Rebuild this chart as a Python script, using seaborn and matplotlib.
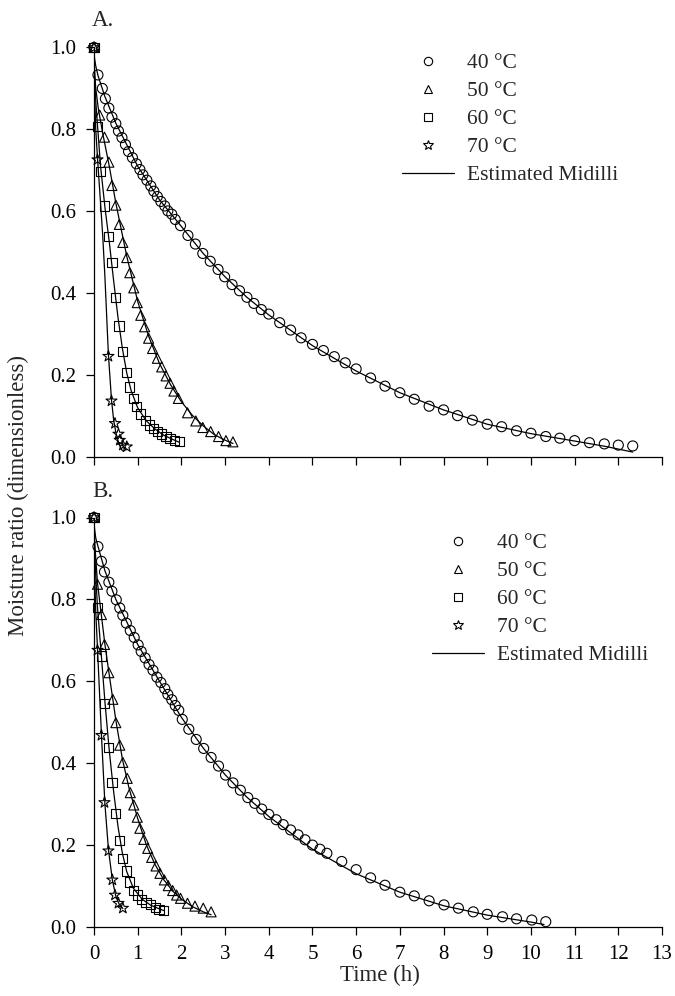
import numpy as np
import pandas as pd
import matplotlib
matplotlib.use("Agg")
import matplotlib.pyplot as plt
import seaborn as sns
from matplotlib.lines import Line2D

sns.set_theme(style="ticks")
plt.rcParams['font.family'] = ['Liberation Serif', 'DejaVu Serif']

# ---------------- Data ----------------
labels = ["40 °C", "50 °C", "60 °C", "70 °C"]
fit_label = "Estimated Midilli"
x_ticks = list(range(0, 14))
y_ticks = [0.0, 0.2, 0.4, 0.6, 0.8, 1.0]
y_tick_labels = ["0.0", "0.2", "0.4", "0.6", "0.8", "1.0"]

# Panel A - observed
a40_t = [0, 0.09, 0.19, 0.26, 0.34, 0.41, 0.50, 0.56, 0.64, 0.72, 0.79, 0.88, 0.97, 1.05,
         1.12, 1.21, 1.30, 1.37, 1.45, 1.53, 1.62, 1.69, 1.78, 1.86, 1.98, 2.15, 2.32, 2.49,
         2.66, 2.84, 2.99, 3.16, 3.33, 3.50, 3.66, 3.83, 4.00, 4.25, 4.50, 4.74, 5.00, 5.25,
         5.50, 5.75, 6.00, 6.33, 6.66, 7.00, 7.33, 7.67, 8.00, 8.32, 8.66, 9.00, 9.33, 9.67,
         10.00, 10.34, 10.66, 11.00, 11.34, 11.68, 12.00, 12.33]
a40_mr = [1.0, 0.933, 0.900, 0.875, 0.852, 0.830, 0.814, 0.796, 0.780, 0.763, 0.746, 0.731,
          0.716, 0.702, 0.689, 0.676, 0.662, 0.649, 0.636, 0.624, 0.613, 0.601, 0.593, 0.580,
          0.565, 0.541, 0.520, 0.497, 0.478, 0.458, 0.440, 0.421, 0.406, 0.390, 0.375, 0.360,
          0.349, 0.328, 0.310, 0.291, 0.275, 0.260, 0.245, 0.230, 0.215, 0.193, 0.173, 0.157,
          0.141, 0.124, 0.115, 0.101, 0.090, 0.080, 0.074, 0.064, 0.058, 0.050, 0.046, 0.040,
          0.035, 0.032, 0.029, 0.027]
a50_t = [0, 0.13, 0.24, 0.34, 0.41, 0.50, 0.58, 0.66, 0.75, 0.82, 0.91, 0.99, 1.07, 1.16,
         1.25, 1.34, 1.45, 1.55, 1.65, 1.74, 1.83, 1.93, 2.14, 2.33, 2.49, 2.67, 2.85, 3.02, 3.18]
a50_mr = [1.0, 0.835, 0.781, 0.720, 0.663, 0.615, 0.568, 0.524, 0.487, 0.450, 0.413, 0.377,
          0.346, 0.318, 0.290, 0.265, 0.241, 0.220, 0.198, 0.180, 0.161, 0.143, 0.108, 0.088,
          0.072, 0.062, 0.050, 0.040, 0.037]
a60_t = [0, 0.08, 0.15, 0.24, 0.34, 0.41, 0.50, 0.57, 0.66, 0.75, 0.82, 0.90, 0.98, 1.07,
         1.17, 1.27, 1.36, 1.46, 1.55, 1.65, 1.74, 1.84, 1.95]
a60_mr = [1.0, 0.807, 0.698, 0.613, 0.539, 0.475, 0.389, 0.320, 0.257, 0.206, 0.171, 0.143,
          0.123, 0.105, 0.090, 0.078, 0.070, 0.062, 0.056, 0.050, 0.046, 0.041, 0.037]
a70_t = [0, 0.08, 0.33, 0.40, 0.48, 0.56, 0.59, 0.66, 0.75]
a70_mr = [1.0, 0.726, 0.246, 0.137, 0.082, 0.056, 0.041, 0.029, 0.025]

# Panel A - Midilli estimates
a40_ft = [0, 0.01, 0.04, 0.09, 0.25, 0.5, 1.0, 1.5, 2.0, 2.5, 3.0, 3.5, 4.0, 5.0, 6.0, 7.0,
          8.0, 9.0, 10.0, 11.0, 11.7, 12.33]
a40_fm = [1.0, 0.975, 0.955, 0.932, 0.880, 0.815, 0.710, 0.628, 0.563, 0.497, 0.440, 0.390,
          0.347, 0.272, 0.210, 0.157, 0.115, 0.080, 0.057, 0.039, 0.026, 0.012]
a50_ft = [0, 0.01, 0.04, 0.10, 0.20, 0.35, 0.5, 0.75, 1.0, 1.25, 1.5, 1.75, 2.0, 2.25, 2.5,
          2.75, 3.0, 3.18]
a50_fm = [1.0, 0.95, 0.90, 0.85, 0.79, 0.71, 0.62, 0.49, 0.38, 0.295, 0.228, 0.177, 0.135,
          0.102, 0.076, 0.055, 0.041, 0.033]
a60_ft = [0, 0.01, 0.04, 0.08, 0.15, 0.25, 0.35, 0.45, 0.55, 0.65, 0.75, 0.85, 1.0, 1.2, 1.4,
          1.6, 1.8, 1.95]
a60_fm = [1.0, 0.93, 0.87, 0.81, 0.71, 0.61, 0.525, 0.43, 0.34, 0.265, 0.205, 0.162, 0.120,
          0.088, 0.068, 0.053, 0.043, 0.036]
a70_ft = [0, 0.01, 0.04, 0.08, 0.15, 0.20, 0.25, 0.30, 0.33, 0.40, 0.45, 0.50, 0.55, 0.60, 0.65]
a70_fm = [1.0, 0.90, 0.80, 0.73, 0.62, 0.54, 0.44, 0.32, 0.25, 0.14, 0.09, 0.06, 0.04, 0.025,
          0.015]

# Panel B - observed
b40_t = [0, 0.09, 0.17, 0.24, 0.34, 0.41, 0.51, 0.59, 0.66, 0.74, 0.83, 0.92, 1.01, 1.08,
         1.17, 1.26, 1.35, 1.44, 1.53, 1.62, 1.69, 1.78, 1.86, 1.94, 2.02, 2.17, 2.34, 2.51,
         2.68, 2.85, 3.01, 3.18, 3.35, 3.52, 3.68, 3.84, 4.00, 4.17, 4.33, 4.50, 4.67, 4.83,
         5.00, 5.17, 5.33, 5.67, 6.00, 6.33, 6.66, 7.00, 7.33, 7.67, 8.01, 8.34, 8.68, 9.00,
         9.35, 9.67, 10.02, 10.34]
b40_mr = [1.0, 0.929, 0.893, 0.867, 0.842, 0.820, 0.799, 0.779, 0.761, 0.742, 0.724, 0.707,
          0.689, 0.673, 0.657, 0.641, 0.627, 0.610, 0.597, 0.582, 0.568, 0.555, 0.541, 0.529,
          0.507, 0.483, 0.458, 0.436, 0.414, 0.393, 0.371, 0.352, 0.334, 0.316, 0.302, 0.288,
          0.275, 0.262, 0.250, 0.237, 0.225, 0.213, 0.200, 0.190, 0.180, 0.160, 0.140, 0.120,
          0.102, 0.085, 0.076, 0.064, 0.054, 0.046, 0.037, 0.031, 0.025, 0.020, 0.017, 0.013]
b50_t = [0, 0.08, 0.17, 0.24, 0.34, 0.43, 0.50, 0.59, 0.66, 0.76, 0.83, 0.91, 0.99, 1.05,
         1.14, 1.23, 1.32, 1.42, 1.51, 1.61, 1.70, 1.80, 1.89, 1.98, 2.14, 2.31, 2.50, 2.68]
b50_mr = [1.0, 0.837, 0.763, 0.690, 0.621, 0.556, 0.499, 0.444, 0.402, 0.363, 0.328, 0.298,
          0.268, 0.241, 0.214, 0.192, 0.170, 0.149, 0.131, 0.115, 0.101, 0.089, 0.078, 0.070,
          0.058, 0.051, 0.046, 0.037]
b60_t = [0, 0.08, 0.17, 0.24, 0.34, 0.41, 0.50, 0.58, 0.66, 0.75, 0.82, 0.90, 0.99, 1.09,
         1.19, 1.30, 1.40, 1.49, 1.59]
b60_mr = [1.0, 0.781, 0.662, 0.546, 0.438, 0.353, 0.277, 0.212, 0.168, 0.137, 0.110, 0.090,
          0.078, 0.068, 0.059, 0.054, 0.048, 0.043, 0.040]
b70_t = [0, 0.08, 0.17, 0.24, 0.33, 0.42, 0.48, 0.56, 0.66]
b70_mr = [1.0, 0.676, 0.468, 0.304, 0.186, 0.115, 0.078, 0.058, 0.046]

# Panel B - Midilli estimates
b40_ft = [0, 0.01, 0.04, 0.09, 0.25, 0.5, 1.0, 1.5, 2.0, 2.5, 3.0, 3.5, 4.0, 5.0, 6.0, 7.0,
          8.0, 9.0, 10.0, 10.3]
b40_fm = [1.0, 0.975, 0.950, 0.930, 0.870, 0.800, 0.690, 0.600, 0.512, 0.437, 0.372, 0.317,
          0.270, 0.190, 0.130, 0.085, 0.052, 0.029, 0.012, 0.006]
b50_ft = [0, 0.01, 0.04, 0.08, 0.17, 0.25, 0.35, 0.5, 0.65, 0.8, 1.0, 1.2, 1.4, 1.6, 1.8, 2.0,
          2.25, 2.5, 2.68]
b50_fm = [1.0, 0.95, 0.90, 0.84, 0.76, 0.69, 0.615, 0.505, 0.41, 0.34, 0.265, 0.20, 0.152,
          0.115, 0.088, 0.068, 0.050, 0.037, 0.030]
b60_ft = [0, 0.01, 0.04, 0.08, 0.17, 0.25, 0.35, 0.45, 0.55, 0.65, 0.75, 0.9, 1.1, 1.3, 1.5,
          1.6]
b60_fm = [1.0, 0.93, 0.86, 0.78, 0.66, 0.55, 0.43, 0.33, 0.245, 0.18, 0.135, 0.095, 0.068,
          0.053, 0.044, 0.040]
b70_ft = [0, 0.01, 0.04, 0.08, 0.17, 0.25, 0.33, 0.42, 0.50, 0.58, 0.66]
b70_fm = [1.0, 0.88, 0.77, 0.68, 0.47, 0.30, 0.19, 0.115, 0.075, 0.055, 0.045]

panels = {
    "A.": {"obs": [(a40_t, a40_mr), (a50_t, a50_mr), (a60_t, a60_mr), (a70_t, a70_mr)],
           "fit": [(a40_ft, a40_fm), (a50_ft, a50_fm), (a60_ft, a60_fm), (a70_ft, a70_fm)]},
    "B.": {"obs": [(b40_t, b40_mr), (b50_t, b50_mr), (b60_t, b60_mr), (b70_t, b70_mr)],
           "fit": [(b40_ft, b40_fm), (b50_ft, b50_fm), (b60_ft, b60_fm), (b70_ft, b70_fm)]},
}

# ---------------- Styling ----------------
markers = ["o", "^", "s", "*"]
msizes = [52, 52, 44, 70]
W, H = 675, 996
fig = plt.figure(figsize=(W / 100, H / 100), dpi=100)

def fx(px):
    return px / W

def fy(py):
    return 1 - py / H

left, right = 94, 662
axes_px = {"A.": (47.5, 457), "B.": (517.5, 927)}
legend_px = {"A.": (402, 53), "B.": (432, 533)}
letter_px = {"A.": (92, 20), "B.": (92, 491)}

TICK_FS = 15
LAB_FS = 16.5
LEG_FS = 15.5

for name, d in panels.items():
    top, bot = axes_px[name]
    ax = fig.add_axes([fx(left), fy(bot), fx(right) - fx(left), fy(top) - fy(bot)])
    for (tf, mf) in d["fit"]:
        df = pd.DataFrame({"t": tf, "mr": mf})
        sns.lineplot(data=df, x="t", y="mr", ax=ax, color="black", lw=0.9,
                     sort=False, estimator=None, zorder=2)
    for (t, mr), m, s in zip(d["obs"], markers, msizes):
        df = pd.DataFrame({"t": t, "mr": mr})
        sns.scatterplot(data=df, x="t", y="mr", ax=ax, marker=m, s=s,
                        facecolor="none", edgecolor="black", linewidth=0.8,
                        clip_on=False, zorder=3)
    ax.set_xlim(0, 13)
    ax.set_ylim(0, 1.0)
    ax.set_xticks(x_ticks)
    ax.set_yticks(y_ticks)
    ax.set_yticklabels(y_tick_labels)
    ax.set_xlabel("")
    ax.set_ylabel("")
    sns.despine(ax=ax)
    for sp in ["left", "bottom"]:
        ax.spines[sp].set_linewidth(0.9)
        ax.spines[sp].set_color("black")
    ax.tick_params(direction="out", length=6, width=0.9, colors="black",
                   labelsize=TICK_FS, pad=7)
    if name == "A.":
        ax.tick_params(axis="x", labelbottom=False)

    handles = [Line2D([], [], marker=m, linestyle="none", markersize=6.0 if m != "*" else 7.5,
                      markerfacecolor="none", markeredgecolor="black", markeredgewidth=0.8)
               for m in markers]
    handles.append(Line2D([], [], color="black", lw=0.9))
    lx, ly = legend_px[name]
    ax.legend(handles, labels + [fit_label], loc="upper left",
              bbox_to_anchor=(fx(lx), fy(ly)), bbox_transform=fig.transFigure,
              frameon=False, borderpad=0, borderaxespad=0, handlelength=2.4,
              handletextpad=0.6, labelspacing=0.37, fontsize=LEG_FS)
    px_, py_ = letter_px[name]
    fig.text(fx(px_), fy(py_), name, ha="left", va="center", fontsize=LAB_FS)

fig.text(fx(18), fy(496), "Moisture ratio (dimensionless)", rotation=90,
         ha="center", va="center", fontsize=LAB_FS)
fig.text(fx(380), fy(975), "Time (h)", ha="center", va="center", fontsize=LAB_FS)

fig.savefig("out.png", dpi=100)
